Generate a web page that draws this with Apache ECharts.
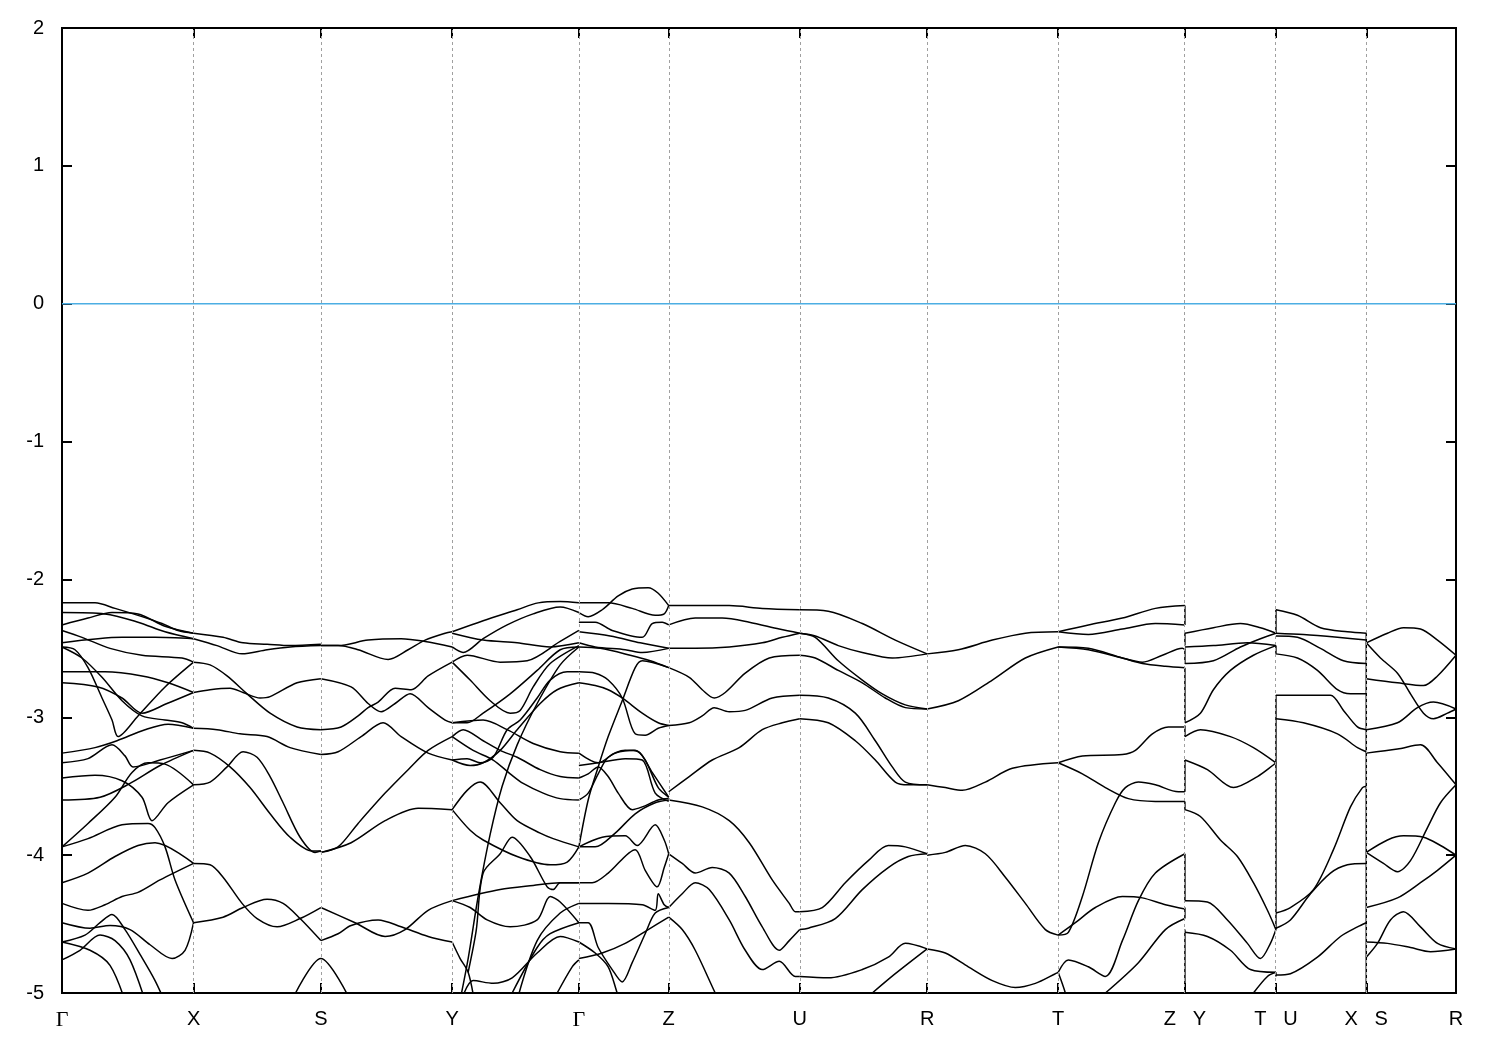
<!DOCTYPE html>
<html><head><meta charset="utf-8">
<script src="https://cdn.jsdelivr.net/npm/echarts@6.0.0/dist/echarts.min.js"></script>
<style>html,body{margin:0;padding:0;background:#fff}#c{width:1500px;height:1050px}</style>
</head><body><div id="c"></div>
<script>
// High-symmetry k-path positions and labels
const kPos = [0, 1.315, 2.588, 3.90, 5.167, 6.065, 7.375, 8.648, 9.958, 11.225, 12.135, 13.038, 13.935];
const kLabels = ['Γ','X','S','Y','Γ','Z','U','R','T','Z|Y','T|U','X|S','R'];
const yTicks = [-5,-4,-3,-2,-1,0,1,2];
const fermi = [[0,0],[13.935,0]];

// Bands per path segment: each curve is a list of [k, E(eV)]
const bandsGX = [
 [[0,-2.17],[0.33,-2.17],[0.53,-2.21],[0.80,-2.27],[1.00,-2.32],[1.16,-2.37],[1.315,-2.39]],
 [[0,-2.24],[0.43,-2.25],[0.76,-2.31],[1.03,-2.38],[1.315,-2.43]],
 [[0,-2.33],[0.26,-2.28],[0.50,-2.24],[0.76,-2.25],[1.03,-2.34],[1.315,-2.39]],
 [[0,-2.37],[0.20,-2.42],[0.48,-2.50],[0.80,-2.55],[1.20,-2.57],[1.315,-2.60]],
 [[0,-2.46],[0.60,-2.42],[0.93,-2.42],[1.315,-2.43]],
 [[0,-2.49],[0.13,-2.51],[0.26,-2.64],[0.40,-2.86],[0.50,-3.02],[0.56,-3.14],[0.76,-2.99],[1.03,-2.78],[1.315,-2.60]],
 [[0,-2.49],[0.20,-2.57],[0.40,-2.71],[0.60,-2.88],[0.80,-2.99],[1.03,-3.02],[1.20,-3.04],[1.315,-3.08]],
 [[0,-2.67],[0.43,-2.67],[0.80,-2.70],[1.06,-2.75],[1.315,-2.82]],
 [[0,-2.75],[0.36,-2.78],[0.60,-2.86],[0.80,-2.97],[1.05,-2.90],[1.315,-2.82]],
 [[0,-3.26],[0.33,-3.22],[0.55,-3.17],[0.83,-3.09],[1.06,-3.05],[1.315,-3.08]],
 [[0,-3.33],[0.26,-3.30],[0.50,-3.20],[0.63,-3.28],[0.71,-3.36],[0.98,-3.31],[1.315,-3.24]],
 [[0,-3.44],[0.33,-3.42],[0.60,-3.46],[0.80,-3.58],[0.90,-3.75],[1.06,-3.62],[1.315,-3.49]],
 [[0,-3.60],[0.38,-3.58],[0.68,-3.48],[0.98,-3.35],[1.315,-3.24]],
 [[0,-3.94],[0.26,-3.77],[0.53,-3.58],[0.70,-3.40],[0.86,-3.33],[1.03,-3.34],[1.315,-3.49]],
 [[0,-3.94],[0.26,-3.88],[0.60,-3.78],[0.86,-3.77],[0.93,-3.80],[1.03,-3.94],[1.13,-4.18],[1.315,-4.49]],
 [[0,-4.20],[0.26,-4.13],[0.53,-4.01],[0.76,-3.93],[0.93,-3.91],[1.315,-4.06]],
 [[0,-4.35],[0.26,-4.40],[0.43,-4.36],[0.60,-4.30],[0.76,-4.27],[0.98,-4.18],[1.315,-4.06]],
 [[0,-4.49],[0.28,-4.53],[0.48,-4.51],[0.68,-4.54],[0.88,-4.65],[1.10,-4.75],[1.23,-4.69],[1.315,-4.49]],
 [[0,-4.63],[0.23,-4.58],[0.38,-4.49],[0.50,-4.43],[0.63,-4.54],[0.78,-4.72],[0.93,-4.91],[1.05,-5.1]],
 [[0,-4.76],[0.18,-4.69],[0.38,-4.58],[0.53,-4.62],[0.68,-4.76],[0.85,-5.1]],
 [[0,-4.63],[0.28,-4.69],[0.48,-4.80],[0.65,-5.1]]
];
const bandsXS = [
 [[1.315,-2.39],[1.61,-2.42],[1.81,-2.46],[2.05,-2.47],[2.28,-2.48],[2.588,-2.47]],
 [[1.315,-2.43],[1.55,-2.48],[1.80,-2.54],[2.05,-2.51],[2.28,-2.49],[2.588,-2.48]],
 [[1.315,-2.60],[1.48,-2.62],[1.65,-2.70],[1.85,-2.83],[2.08,-2.97],[2.35,-3.07],[2.588,-3.09]],
 [[1.315,-2.82],[1.48,-2.80],[1.68,-2.79],[1.81,-2.82],[1.98,-2.86],[2.08,-2.85],[2.35,-2.75],[2.588,-2.72]],
 [[1.315,-3.08],[1.55,-3.09],[1.78,-3.12],[2.05,-3.14],[2.28,-3.22],[2.588,-3.27]],
 [[1.315,-3.24],[1.48,-3.26],[1.68,-3.36],[1.88,-3.51],[2.08,-3.70],[2.28,-3.87],[2.50,-3.97],[2.588,-3.97]],
 [[1.315,-3.49],[1.48,-3.47],[1.65,-3.36],[1.81,-3.25],[1.95,-3.29],[2.08,-3.43],[2.21,-3.62],[2.38,-3.87],[2.53,-3.98],[2.588,-3.97]],
 [[1.315,-4.06],[1.48,-4.07],[1.61,-4.16],[1.80,-4.35],[1.95,-4.46],[2.15,-4.52],[2.38,-4.46],[2.588,-4.38]],
 [[1.315,-4.49],[1.61,-4.45],[1.81,-4.38],[2.05,-4.32],[2.21,-4.35],[2.38,-4.46],[2.588,-4.62]],
 [[2.30,-5.05],[2.588,-4.75],[2.88,-5.05]]
];
const bandsSY = [
 [[2.588,-2.48],[2.76,-2.48],[3.06,-2.44],[3.39,-2.43],[3.63,-2.45],[3.90,-2.49]],
 [[2.588,-2.48],[2.76,-2.48],[2.96,-2.51],[3.26,-2.58],[3.46,-2.51],[3.63,-2.44],[3.83,-2.39],[3.90,-2.38]],
 [[2.588,-2.72],[2.89,-2.78],[3.06,-2.90],[3.19,-2.96],[3.33,-2.90],[3.48,-2.83],[3.66,-2.93],[3.83,-3.02],[3.90,-3.04]],
 [[2.588,-3.09],[2.79,-3.07],[2.96,-2.99],[3.06,-2.93],[3.16,-2.89],[3.33,-2.79],[3.49,-2.80],[3.66,-2.70],[3.90,-2.60]],
 [[2.588,-3.27],[2.76,-3.25],[2.99,-3.14],[3.21,-3.04],[3.39,-3.14],[3.66,-3.26],[3.90,-3.31]],
 [[2.588,-3.98],[2.76,-3.94],[2.96,-3.77],[3.23,-3.55],[3.46,-3.38],[3.66,-3.24],[3.90,-3.14]],
 [[2.588,-3.98],[2.89,-3.91],[3.23,-3.75],[3.56,-3.66],[3.90,-3.67]],
 [[2.588,-4.38],[2.93,-4.49],[3.23,-4.59],[3.43,-4.54],[3.66,-4.40],[3.90,-4.33]],
 [[2.588,-4.62],[2.76,-4.57],[2.89,-4.51],[3.16,-4.47],[3.39,-4.52],[3.66,-4.59],[3.90,-4.63]]
];
const bandsYG = [
 [[3.90,-2.38],[4.21,-2.30],[4.55,-2.22],[4.76,-2.17],[4.98,-2.16],[5.167,-2.17]],
 [[3.90,-2.49],[4.01,-2.53],[4.21,-2.43],[4.45,-2.33],[4.71,-2.25],[4.98,-2.20],[5.167,-2.24]],
 [[3.90,-2.39],[4.21,-2.44],[4.55,-2.46],[4.88,-2.49],[5.167,-2.46]],
 [[3.90,-2.60],[4.05,-2.55],[4.38,-2.60],[4.65,-2.59],[4.98,-2.45],[5.167,-2.37]],
 [[3.90,-2.60],[4.08,-2.73],[4.28,-2.88],[4.48,-2.97],[4.58,-2.95],[4.71,-2.78],[4.88,-2.61],[5.167,-2.48]],
 [[3.90,-3.04],[4.05,-3.04],[4.21,-2.97],[4.48,-2.83],[4.75,-2.66],[4.98,-2.51],[5.167,-2.49]],
 [[3.90,-3.04],[4.21,-3.02],[4.45,-3.09],[4.71,-3.19],[4.98,-3.25],[5.167,-3.26]],
 [[3.90,-3.14],[4.01,-3.09],[4.21,-3.17],[4.38,-3.24],[4.55,-3.29],[4.78,-3.38],[4.98,-3.43],[5.167,-3.44]],
 [[3.90,-3.14],[4.11,-3.24],[4.31,-3.31],[4.48,-3.41],[4.61,-3.48],[4.81,-3.55],[4.98,-3.59],[5.167,-3.60]],
 [[3.90,-3.31],[4.05,-3.30],[4.18,-3.33],[4.31,-3.29],[4.45,-3.09],[4.58,-3.02],[4.75,-2.86],[4.88,-2.73],[5.05,-2.67],[5.167,-2.67]],
 [[3.90,-3.31],[4.08,-3.35],[4.21,-3.33],[4.38,-3.24],[4.55,-3.09],[4.78,-2.90],[4.95,-2.80],[5.167,-2.75]],
 [[3.98,-5.05],[4.06,-4.75],[4.16,-4.30],[4.28,-3.85],[4.40,-3.50],[4.55,-3.20],[4.75,-2.90],[4.98,-2.62],[5.167,-2.49]],
 [[3.90,-3.67],[4.05,-3.53],[4.18,-3.47],[4.38,-3.62],[4.55,-3.75],[4.78,-3.84],[4.91,-3.88],[5.167,-3.94]],
 [[3.90,-3.67],[4.08,-3.82],[4.21,-3.89],[4.55,-4.01],[4.88,-4.07],[5.05,-4.05],[5.167,-3.94]],
 [[4.06,-4.85],[4.14,-4.55],[4.21,-4.13],[4.38,-3.99],[4.50,-3.87],[4.68,-4.01],[4.85,-4.23],[4.91,-4.25],[4.98,-4.20],[5.167,-4.20]],
 [[3.90,-4.33],[4.38,-4.25],[4.71,-4.22],[4.98,-4.20],[5.167,-4.20]],
 [[3.90,-4.33],[4.08,-4.38],[4.25,-4.47],[4.48,-4.52],[4.75,-4.47],[4.88,-4.30],[4.98,-4.34],[5.167,-4.49]],
 [[4.55,-5.05],[4.75,-4.62],[4.98,-4.42],[5.167,-4.35]],
 [[4.50,-5.0],[4.75,-4.67],[4.88,-4.57],[5.167,-4.49]],
 [[4.95,-5.0],[5.10,-4.81],[5.167,-4.76]],
 [[4.02,-5.0],[4.11,-4.91],[4.31,-4.93],[4.50,-4.89],[4.75,-4.71],[4.98,-4.59],[5.167,-4.63]],
 [[3.90,-4.63],[3.98,-4.75],[4.06,-4.85],[4.12,-5.05]]
];
const bandsGZ = [
 [[5.167,-2.24],[5.26,-2.27],[5.40,-2.22],[5.56,-2.12],[5.70,-2.07],[5.86,-2.06],[5.96,-2.10],[6.065,-2.19]],
 [[5.167,-2.17],[5.46,-2.17],[5.70,-2.21],[5.93,-2.26],[6.02,-2.25],[6.065,-2.19]],
 [[5.167,-2.31],[5.33,-2.31],[5.50,-2.37],[5.80,-2.42],[5.90,-2.32],[6.00,-2.31],[6.065,-2.33]],
 [[5.167,-2.46],[5.33,-2.49],[5.63,-2.51],[5.80,-2.53],[6.065,-2.50]],
 [[5.167,-2.38],[5.48,-2.41],[5.78,-2.46],[6.065,-2.50]],
 [[5.167,-2.49],[5.38,-2.50],[5.68,-2.55],[5.88,-2.59],[6.065,-2.64]],
 [[5.167,-2.67],[5.33,-2.68],[5.46,-2.73],[5.60,-2.86],[5.73,-3.12],[5.83,-3.13],[5.96,-3.08],[6.065,-3.06]],
 [[5.167,-2.75],[5.33,-2.77],[5.46,-2.80],[5.60,-2.86],[5.80,-2.97],[5.96,-3.04],[6.065,-3.06]],
 [[5.167,-3.94],[5.26,-3.60],[5.36,-3.36],[5.46,-3.14],[5.60,-2.88],[5.73,-2.64],[5.80,-2.59],[6.065,-2.64]],
 [[5.167,-3.26],[5.36,-3.33],[5.53,-3.26],[5.73,-3.24],[5.83,-3.31],[5.96,-3.51],[6.065,-3.58]],
 [[5.167,-3.35],[5.36,-3.33],[5.63,-3.30],[5.80,-3.31],[5.93,-3.55],[6.065,-3.61]],
 [[5.167,-3.44],[5.26,-3.41],[5.36,-3.36],[5.46,-3.43],[5.56,-3.55],[5.70,-3.67],[5.80,-3.65],[5.96,-3.60],[6.065,-3.59]],
 [[5.167,-3.60],[5.26,-3.55],[5.36,-3.41],[5.46,-3.29],[5.63,-3.24],[5.76,-3.25],[5.90,-3.40],[6.065,-3.58]],
 [[5.167,-3.94],[5.33,-3.94],[5.53,-3.84],[5.73,-3.70],[5.93,-3.62],[6.065,-3.60]],
 [[5.167,-3.94],[5.40,-3.87],[5.63,-3.86],[5.75,-3.93],[5.93,-3.78],[6.02,-3.89],[6.065,-3.99]],
 [[5.167,-4.20],[5.30,-4.20],[5.46,-4.13],[5.73,-3.96],[5.83,-4.11],[5.95,-4.23],[6.02,-4.09],[6.065,-3.99]],
 [[5.167,-4.35],[5.46,-4.35],[5.80,-4.36],[5.93,-4.40],[5.96,-4.28],[6.02,-4.36],[6.065,-4.38]],
 [[5.167,-4.49],[5.26,-4.49],[5.36,-4.67],[5.50,-4.83],[5.60,-4.92],[5.70,-4.78],[5.83,-4.57],[5.93,-4.42],[6.065,-4.38]],
 [[5.167,-4.63],[5.33,-4.71],[5.46,-4.81],[5.55,-5.0],[5.60,-5.1]],
 [[5.167,-4.75],[5.40,-4.71],[5.63,-4.64],[5.86,-4.54],[6.065,-4.45]]
];
const bandsZU = [
 [[6.065,-2.19],[6.67,-2.19],[7.00,-2.21],[7.375,-2.22]],
 [[6.065,-2.33],[6.33,-2.28],[6.60,-2.28],[6.87,-2.31],[7.17,-2.36],[7.375,-2.39]],
 [[6.065,-2.50],[6.33,-2.50],[6.67,-2.49],[7.00,-2.46],[7.20,-2.42],[7.375,-2.39]],
 [[6.065,-2.64],[6.27,-2.71],[6.40,-2.80],[6.52,-2.86],[6.63,-2.82],[6.83,-2.68],[7.07,-2.57],[7.375,-2.55]],
 [[6.065,-3.06],[6.27,-3.04],[6.40,-2.99],[6.52,-2.93],[6.67,-2.96],[6.83,-2.95],[7.10,-2.86],[7.375,-2.84]],
 [[6.065,-3.54],[6.27,-3.43],[6.50,-3.31],[6.77,-3.22],[7.00,-3.09],[7.20,-3.04],[7.375,-3.01]],
 [[6.065,-3.60],[6.40,-3.65],[6.67,-3.75],[6.87,-3.91],[7.10,-4.18],[7.27,-4.35],[7.33,-4.41],[7.375,-4.41]],
 [[6.065,-3.99],[6.20,-4.06],[6.33,-4.13],[6.50,-4.09],[6.67,-4.13],[6.83,-4.30],[7.00,-4.52],[7.17,-4.69],[7.27,-4.62],[7.375,-4.54]],
 [[6.065,-4.38],[6.20,-4.28],[6.33,-4.20],[6.47,-4.25],[6.67,-4.47],[6.83,-4.69],[7.00,-4.83],[7.17,-4.77],[7.33,-4.88],[7.375,-4.88]],
 [[6.065,-4.45],[6.20,-4.54],[6.33,-4.69],[6.53,-5.0],[6.6,-5.1]]
];
const bandsUR = [
 [[7.375,-2.22],[7.66,-2.23],[8.00,-2.32],[8.33,-2.44],[8.648,-2.54]],
 [[7.375,-2.39],[7.53,-2.41],[7.76,-2.48],[8.00,-2.53],[8.30,-2.57],[8.648,-2.54]],
 [[7.375,-2.39],[7.53,-2.42],[7.76,-2.59],[8.00,-2.73],[8.20,-2.83],[8.43,-2.91],[8.648,-2.94]],
 [[7.375,-2.55],[7.53,-2.57],[7.76,-2.66],[8.00,-2.75],[8.23,-2.86],[8.43,-2.93],[8.648,-2.94]],
 [[7.375,-2.84],[7.66,-2.86],[7.93,-2.97],[8.13,-3.17],[8.30,-3.36],[8.43,-3.47],[8.648,-3.49]],
 [[7.375,-3.01],[7.66,-3.04],[7.93,-3.17],[8.13,-3.31],[8.33,-3.47],[8.46,-3.49],[8.648,-3.49]],
 [[7.375,-4.41],[7.60,-4.38],[7.83,-4.20],[8.06,-4.04],[8.26,-3.93],[8.43,-3.94],[8.648,-3.99]],
 [[7.375,-4.54],[7.46,-4.53],[7.73,-4.46],[8.00,-4.25],[8.26,-4.09],[8.46,-4.01],[8.648,-3.99]],
 [[7.375,-4.88],[7.66,-4.89],[8.00,-4.83],[8.26,-4.74],[8.43,-4.64],[8.648,-4.68]],
 [[8.10,-5.0],[8.33,-4.86],[8.648,-4.68]]
];
const bandsRT = [
 [[8.648,-2.54],[8.96,-2.51],[9.30,-2.44],[9.63,-2.39],[9.958,-2.38]],
 [[8.648,-2.94],[8.96,-2.88],[9.30,-2.73],[9.63,-2.57],[9.958,-2.49]],
 [[8.648,-3.49],[8.83,-3.51],[9.00,-3.53],[9.23,-3.47],[9.50,-3.37],[9.958,-3.33]],
 [[8.648,-4.00],[8.83,-3.98],[9.03,-3.93],[9.23,-3.99],[9.43,-4.16],[9.63,-4.35],[9.83,-4.54],[9.958,-4.58]],
 [[8.648,-4.68],[8.83,-4.71],[9.06,-4.81],[9.30,-4.91],[9.53,-4.96],[9.73,-4.93],[9.93,-4.86],[9.958,-4.85]],
 [[9.958,-4.85],[10.03,-5.0],[10.06,-5.1]]
];
const bandsTZ = [
 [[9.958,-2.38],[10.26,-2.33],[10.60,-2.28],[10.93,-2.21],[11.225,-2.19]],
 [[9.958,-2.38],[10.26,-2.40],[10.60,-2.36],[10.93,-2.32],[11.225,-2.33]],
 [[9.958,-2.49],[10.26,-2.50],[10.60,-2.57],[10.80,-2.60],[11.00,-2.55],[11.20,-2.50],[11.225,-2.51]],
 [[9.958,-2.49],[10.26,-2.51],[10.60,-2.57],[10.80,-2.61],[11.03,-2.63],[11.225,-2.64]],
 [[9.958,-3.33],[10.20,-3.28],[10.60,-3.27],[10.73,-3.24],[10.90,-3.12],[11.06,-3.07],[11.225,-3.07]],
 [[9.958,-3.33],[10.20,-3.41],[10.43,-3.51],[10.66,-3.59],[10.93,-3.61],[11.225,-3.61]],
 [[9.958,-4.58],[10.06,-4.56],[10.20,-4.30],[10.36,-3.91],[10.53,-3.62],[10.63,-3.51],[10.76,-3.47],[10.93,-3.49],[11.16,-3.54],[11.225,-3.54]],
 [[9.958,-4.58],[10.13,-4.49],[10.33,-4.38],[10.60,-4.30],[10.80,-4.31],[11.03,-4.36],[11.225,-4.39]],
 [[9.958,-4.85],[10.06,-4.76],[10.26,-4.81],[10.43,-4.88],[10.60,-4.62],[10.76,-4.33],[10.93,-4.13],[11.225,-3.99]],
 [[10.43,-5.0],[10.76,-4.78],[11.03,-4.54],[11.225,-4.46]]
];
const bandsYT = [
 [[11.225,-2.39],[11.51,-2.35],[11.78,-2.32],[11.98,-2.35],[12.135,-2.39]],
 [[11.225,-2.49],[11.51,-2.48],[11.85,-2.46],[12.135,-2.48]],
 [[11.225,-2.61],[11.51,-2.59],[11.78,-2.49],[11.98,-2.43],[12.135,-2.39]],
 [[11.225,-3.04],[11.38,-2.97],[11.51,-2.80],[11.68,-2.66],[11.91,-2.55],[12.135,-2.48]],
 [[11.225,-3.14],[11.38,-3.09],[11.68,-3.14],[11.91,-3.22],[12.135,-3.33]],
 [[11.225,-3.31],[11.45,-3.38],[11.71,-3.51],[11.95,-3.43],[12.135,-3.33]],
 [[11.225,-3.67],[11.38,-3.72],[11.58,-3.89],[11.75,-4.01],[11.91,-4.20],[12.05,-4.40],[12.135,-4.54]],
 [[11.225,-4.33],[11.45,-4.34],[11.65,-4.47],[11.85,-4.64],[11.98,-4.75],[12.08,-4.64],[12.135,-4.54]],
 [[11.225,-4.56],[11.45,-4.59],[11.68,-4.69],[11.88,-4.83],[12.135,-4.85]],
 [[11.91,-5.0],[12.05,-4.88],[12.135,-4.85]]
];
const bandsUX = [
 [[12.135,-2.22],[12.35,-2.26],[12.58,-2.35],[12.85,-2.38],[13.038,-2.39]],
 [[12.135,-2.39],[12.41,-2.40],[12.75,-2.42],[13.038,-2.44]],
 [[12.135,-2.41],[12.35,-2.42],[12.58,-2.50],[12.81,-2.59],[13.038,-2.61]],
 [[12.135,-2.54],[12.35,-2.57],[12.55,-2.66],[12.75,-2.80],[12.88,-2.83],[13.038,-2.83]],
 [[12.135,-2.84],[12.41,-2.84],[12.68,-2.84],[12.81,-2.95],[12.95,-3.07],[13.038,-3.09]],
 [[12.135,-3.01],[12.41,-3.04],[12.75,-3.12],[12.95,-3.22],[13.038,-3.25]],
 [[12.135,-4.42],[12.28,-4.38],[12.51,-4.25],[12.71,-3.96],[12.88,-3.65],[13.00,-3.51],[13.038,-3.50]],
 [[12.135,-4.53],[12.28,-4.47],[12.48,-4.28],[12.68,-4.13],[12.85,-4.07],[13.038,-4.06]],
 [[12.135,-4.87],[12.28,-4.86],[12.55,-4.74],[12.78,-4.59],[12.95,-4.52],[13.038,-4.49]]
];
const bandsSR = [
 [[13.038,-2.46],[13.25,-2.39],[13.41,-2.35],[13.58,-2.36],[13.75,-2.44],[13.935,-2.55]],
 [[13.038,-2.46],[13.18,-2.57],[13.35,-2.68],[13.48,-2.83],[13.61,-2.97],[13.71,-3.01],[13.85,-2.97],[13.935,-2.94]],
 [[13.038,-2.72],[13.35,-2.75],[13.61,-2.77],[13.75,-2.70],[13.935,-2.55]],
 [[13.038,-3.09],[13.35,-3.04],[13.55,-2.93],[13.71,-2.89],[13.935,-2.94]],
 [[13.038,-3.26],[13.35,-3.23],[13.58,-3.20],[13.75,-3.33],[13.935,-3.49]],
 [[13.038,-3.98],[13.21,-4.06],[13.35,-4.12],[13.48,-4.04],[13.65,-3.80],[13.78,-3.62],[13.935,-3.49]],
 [[13.038,-3.98],[13.25,-3.89],[13.41,-3.86],[13.61,-3.87],[13.78,-3.93],[13.935,-4.00]],
 [[13.038,-4.38],[13.35,-4.31],[13.58,-4.20],[13.75,-4.11],[13.935,-4.00]],
 [[13.038,-4.74],[13.15,-4.64],[13.28,-4.47],[13.41,-4.41],[13.58,-4.52],[13.75,-4.64],[13.935,-4.68]],
 [[13.038,-4.63],[13.25,-4.64],[13.48,-4.67],[13.68,-4.70],[13.935,-4.68]]
];
// Band jumps at path discontinuities: [k, E_from, E_to]
const jumps = [
 [11.225,-2.19,-2.33],[11.225,-2.39,-2.48],[11.225,-2.50,-2.61],[11.225,-2.64,-3.04],[11.225,-3.06,-3.14],
 [11.225,-3.31,-3.54],[11.225,-3.61,-3.67],[11.225,-3.99,-4.33],[11.225,-4.38,-4.46],[11.225,-4.54,-5.05],
 [12.135,-2.22,-2.39],[12.135,-2.48,-2.54],[12.135,-2.84,-4.54],[12.135,-4.85,-4.88],
 [13.038,-2.39,-5.05]
];

const allBands = [bandsGX,bandsXS,bandsSY,bandsYG,bandsGZ,bandsZU,bandsUR,bandsRT,bandsTZ,bandsYT,bandsUX,bandsSR];
const lineStyle = {color:'#000', width:1.5};
const series = [];
series.push({
  type:'line', data:[], silent:true, z:1,
  markLine:{silent:true, symbol:'none', label:{show:false},
    lineStyle:{color:'#a0a0a0', type:[3,3], width:1},
    data: kPos.slice(1,-1).map(v=>({xAxis:v}))}
});
series.push({type:'line', data:fermi, symbol:'none', silent:true, z:2,
  lineStyle:{color:'#4CAEE3', width:1.5}});
allBands.forEach(seg=>seg.forEach(c=>{
  series.push({type:'line', data:c, symbol:'none', smooth:0.3, silent:true, z:3, lineStyle});
}));
jumps.forEach(j=>{
  series.push({type:'line', data:[[j[0],j[1]],[j[0],j[2]]], symbol:'none', silent:true, z:3, lineStyle});
});

const fmtK = v => {
  const i = kPos.findIndex(p=>Math.abs(p-v)<1e-6);
  if (i<0) return '';
  const l = kLabels[i];
  if (l === 'Γ') return '{g|Γ}';
  if (l.includes('|')) { const [a,b]=l.split('|'); return a+'   '+b; }
  return l;
};
const font = {fontFamily:'Liberation Sans, Arial, sans-serif', fontSize:20, color:'#000'};
const chart = echarts.init(document.getElementById('c'), null, {renderer:'canvas'});
chart.setOption({
  animation:false,
  backgroundColor:'#fff',
  grid:{left:62, right:44, top:28, bottom:57, show:true, borderColor:'#000', borderWidth:2, backgroundColor:'transparent'},
  xAxis:[{
    type:'value', min:0, max:13.935, position:'bottom',
    axisLine:{show:false, onZero:false},
    splitLine:{show:false},
    axisTick:{show:true, inside:true, length:10, customValues:kPos, lineStyle:{color:'#000', width:2}},
    axisLabel:{show:true, customValues:kPos, formatter:fmtK, margin:16, ...font,
      rich:{g:{fontFamily:'Liberation Serif, DejaVu Serif, serif', fontSize:22, color:'#000'}}}
  },{
    type:'value', min:0, max:13.935, position:'top',
    axisLine:{show:false, onZero:false}, splitLine:{show:false},
    axisTick:{show:true, inside:true, length:10, customValues:kPos, lineStyle:{color:'#000', width:2}},
    axisLabel:{show:false}
  }],
  yAxis:[{
    type:'value', min:-5, max:2, interval:1, position:'left',
    axisLine:{show:false, onZero:false}, splitLine:{show:false},
    axisTick:{show:true, inside:true, length:10, lineStyle:{color:'#000', width:2}},
    axisLabel:{show:true, margin:18, ...font}
  },{
    type:'value', min:-5, max:2, interval:1, position:'right',
    axisLine:{show:false, onZero:false}, splitLine:{show:false},
    axisTick:{show:true, inside:true, length:10, lineStyle:{color:'#000', width:2}},
    axisLabel:{show:false}
  }],
  series
});
</script></body></html>
